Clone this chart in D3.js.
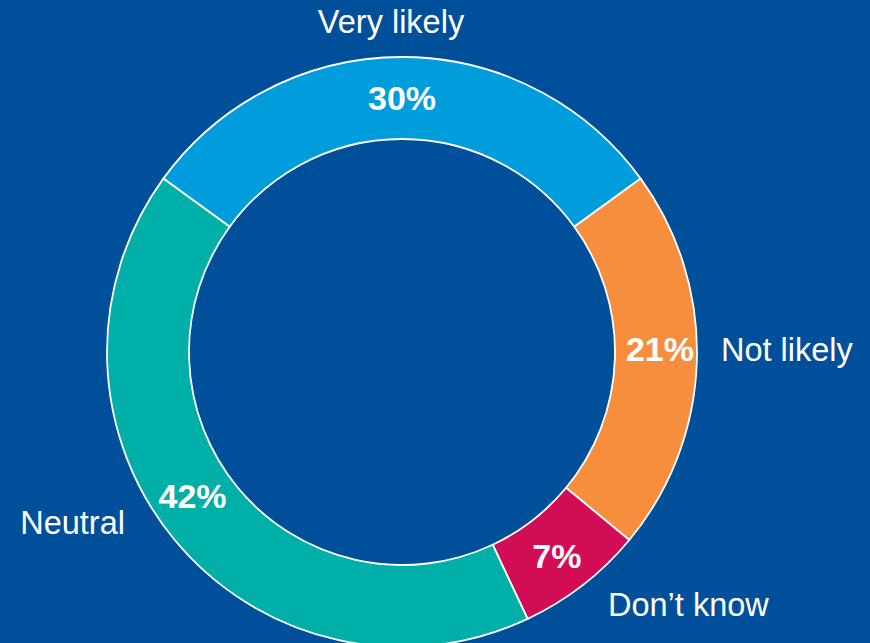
<!DOCTYPE html>
<html>
<head>
<meta charset="utf-8">
<script src="https://cdn.jsdelivr.net/npm/d3@7"></script>
<style>
  html, body { margin: 0; padding: 0; background: #004f9a; }
  svg { display: block; }
  text { font-family: "Liberation Sans", Arial, sans-serif; fill: #ffffff; }
</style>
</head>
<body>
<svg id="chart" width="870" height="643"></svg>
<script>
const categories = ["Very likely", "Not likely", "Don\u2019t know", "Neutral"];
const values = [30, 21, 7, 42];
const colors = ["#009ddc", "#f68e3d", "#d30c56", "#00b0a8"];
const labelAnchors = ["middle", "start", "start", "end"];

const W = 870, H = 643;
const cx = 402, cy = 352;
const outerR = 295, innerR = 213;

const svg = d3.select("#chart");
svg.append("rect").attr("width", W).attr("height", H).attr("fill", "#004f9a");

const g = svg.append("g").attr("transform", `translate(${cx},${cy})`);

const total = d3.sum(values);
const startAngle = -Math.PI * (values[0] / total);
const pie = d3.pie().sort(null).value(d => d)
  .startAngle(startAngle).endAngle(startAngle + 2 * Math.PI);
const arcs = pie(values);

const arc = d3.arc().innerRadius(innerR).outerRadius(outerR);

g.selectAll("path.slice").data(arcs).enter().append("path")
  .attr("class", "slice")
  .attr("d", arc)
  .attr("fill", (d, i) => colors[i])
  .attr("stroke", "#ffffff")
  .attr("stroke-width", 1.8)
  .attr("stroke-linejoin", "miter");

// percentage labels (inside ring)
const pctAngleShift = [0, -0.045, 0.01, 0.09];
const pctRShift = [0, 4, 2, 0];
const pctR = (innerR + outerR) / 2;
function pctXY(d, i) {
  const a = (d.startAngle + d.endAngle) / 2 + pctAngleShift[i];
  const r = pctR + pctRShift[i];
  return [r * Math.sin(a), -r * Math.cos(a)];
}
g.selectAll("text.pct").data(arcs).enter().append("text")
  .attr("class", "pct")
  .attr("x", (d, i) => pctXY(d, i)[0])
  .attr("y", (d, i) => pctXY(d, i)[1])
  .attr("dy", "0.36em")
  .attr("text-anchor", "middle")
  .style("font-weight", "bold")
  .style("font-size", "34px")
  .text(d => d.data + "%");

// category labels (outside ring)
const labelPos = [
  [391 - cx, 33 - cy],
  [721 - cx, 361 - cy],
  [608 - cx, 616 - cy],
  [125 - cx, 534 - cy]
];
g.selectAll("text.cat").data(categories).enter().append("text")
  .attr("class", "cat")
  .attr("x", (d, i) => labelPos[i][0])
  .attr("y", (d, i) => labelPos[i][1])
  .attr("text-anchor", (d, i) => labelAnchors[i])
  .style("font-size", "32.5px")
  .text(d => d);
</script>
</body>
</html>
